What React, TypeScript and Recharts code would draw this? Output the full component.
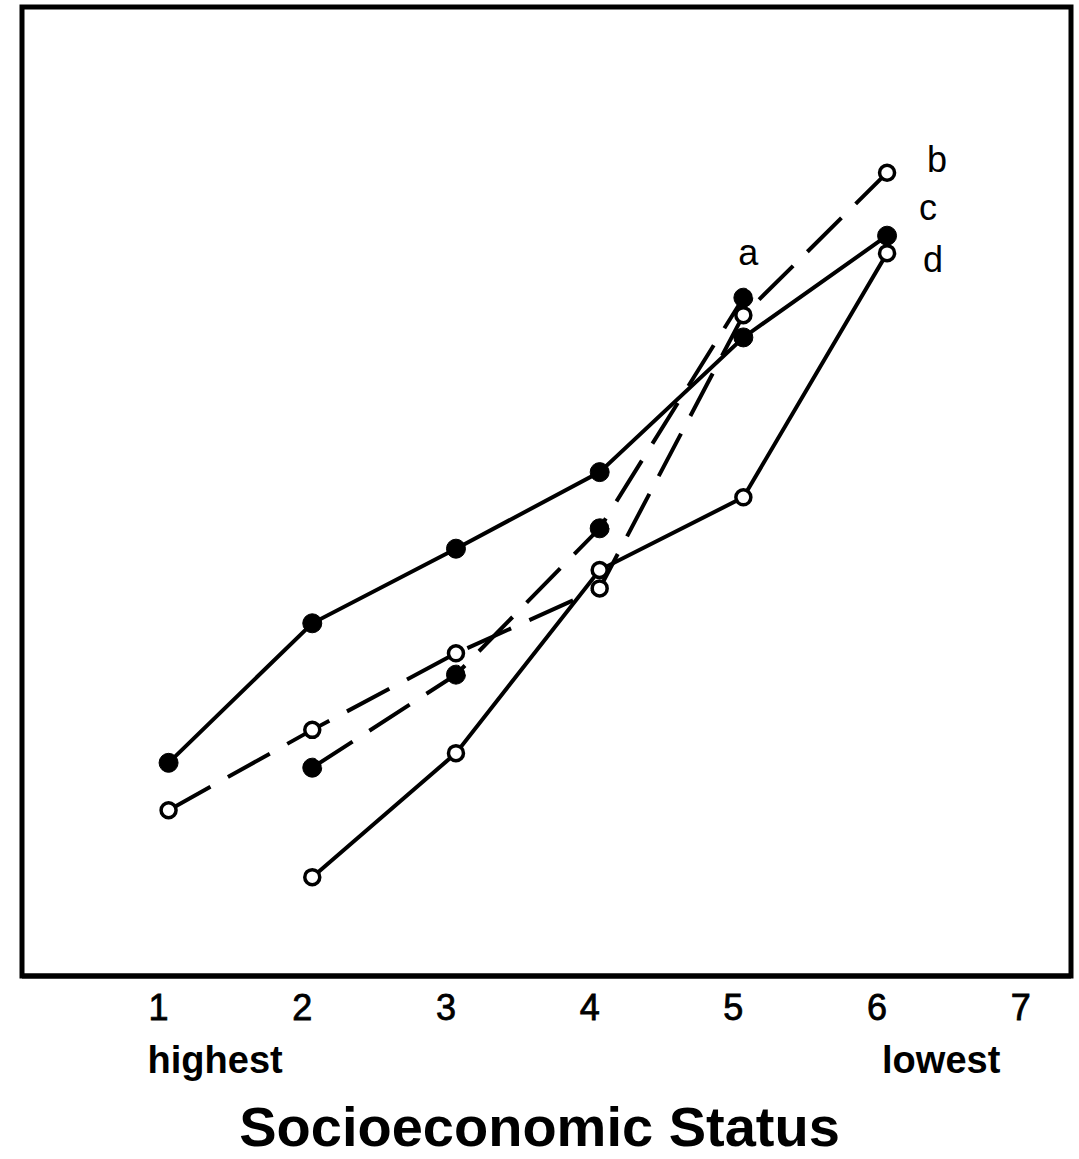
import React from 'react';
import { LineChart, Line, XAxis, YAxis, Label, LabelList, ReferenceArea } from 'recharts';

// SES category (1 = highest, 6 = lowest) and the four curves, no y scale given
const sesLevels = [1, 2, 3, 4, 5, 6];
const seriesA = [null, 21.5, 31.1, 46.2, 70.0, null];
const seriesB = [17.1, 25.4, 33.3, 40.0, 68.2, 82.9];
const seriesC = [22.0, 36.4, 44.1, 52.0, 65.9, 76.4];
const seriesD = [null, 10.2, 23.0, 41.9, 49.4, 74.6];
const xTicks = [1, 2, 3, 4, 5, 6, 7];
const tickNotes: Record<number, string> = { 1: 'highest', 6: 'lowest' };

const data = sesLevels.map((x, i) => ({
  x,
  a: seriesA[i],
  b: seriesB[i],
  c: seriesC[i],
  d: seriesD[i],
}));

const FONT = '"Liberation Sans", Arial, Helvetica, sans-serif';
const X_DOMAIN = [-0.02, 7.28];
const Y_DOMAIN = [0, 100];

const filledDot = { r: 9.5, fill: '#000', stroke: '#000', strokeWidth: 1 };
const openDot = { r: 7.5, fill: '#fff', stroke: '#000', strokeWidth: 3.5 };

const lastIndex = (arr: (number | null)[]) => {
  let k = -1;
  arr.forEach((v, i) => {
    if (v != null) k = i;
  });
  return k;
};

const endLabel = (text: string, idx: number, dx: number, dy: number) => (props: any) => {
  if (props.index !== idx) return null;
  return (
    <text
      x={props.x + dx}
      y={props.y + dy}
      textAnchor="middle"
      fontFamily={FONT}
      fontSize={36}
      fill="#000"
    >
      {text}
    </text>
  );
};

const SesTick = (props: any) => {
  const { x, y, payload } = props;
  const note = tickNotes[payload.value];
  return (
    <g>
      <text
        x={x - 10}
        y={y + 44}
        textAnchor="middle"
        fontFamily={FONT}
        fontSize={36}
        fill="#000"
        stroke="#000"
        strokeWidth={0.8}
      >
        {payload.value}
      </text>
      {note && (
        <text
          x={x + (payload.value === 1 ? -21 : -5)}
          y={y + 97}
          textAnchor="start"
          fontFamily={FONT}
          fontWeight="bold"
          fontSize={38}
          fill="#000"
        >
          {note}
        </text>
      )}
    </g>
  );
};

export default function App() {
  return (
    <div style={{ position: 'absolute', left: 0, top: 0, background: '#fff' }}>
      <LineChart width={1079} height={1159} data={data} margin={{ top: 7, right: 8, left: 22, bottom: 0 }}>
        <XAxis
          dataKey="x"
          type="number"
          domain={X_DOMAIN}
          ticks={xTicks}
          interval={0}
          height={183}
          tickLine={false}
          tickSize={0}
          tickMargin={0}
          axisLine={{ stroke: '#000', strokeWidth: 5 }}
          tick={<SesTick />}
        >
          <Label
            content={(p: any) => (
              <text
                x={p.viewBox.x + p.viewBox.width / 2 - 7}
                y={p.viewBox.y + 170}
                textAnchor="middle"
                fontFamily={FONT}
                fontWeight="bold"
                fontSize={56}
                fill="#000"
              >
                Socioeconomic Status
              </text>
            )}
          />
        </XAxis>
        <YAxis type="number" domain={Y_DOMAIN} hide />

        {/* frame around the plot */}
        <ReferenceArea
          x1={X_DOMAIN[0]}
          x2={X_DOMAIN[1]}
          y1={Y_DOMAIN[0]}
          y2={Y_DOMAIN[1]}
          fill="none"
          fillOpacity={0}
          stroke="#000"
          strokeWidth={5}
        />

        <Line
          dataKey="c"
          stroke="#000"
          strokeWidth={4}
          dot={filledDot}
          activeDot={false}
          isAnimationActive={false}
        >
          <LabelList dataKey="c" content={endLabel('c', lastIndex(seriesC), 41, -16)} />
        </Line>
        <Line
          dataKey="d"
          stroke="#000"
          strokeWidth={4}
          dot={openDot}
          activeDot={false}
          isAnimationActive={false}
        >
          <LabelList dataKey="d" content={endLabel('d', lastIndex(seriesD), 46, 19)} />
        </Line>
        <Line
          dataKey="a"
          stroke="#000"
          strokeWidth={4}
          strokeDasharray="48 20"
          dot={filledDot}
          activeDot={false}
          isAnimationActive={false}
        >
          <LabelList dataKey="a" content={endLabel('a', lastIndex(seriesA), 5, -33)} />
        </Line>
        <Line
          dataKey="b"
          stroke="#000"
          strokeWidth={4}
          strokeDasharray="48 20"
          dot={openDot}
          activeDot={false}
          isAnimationActive={false}
        >
          <LabelList dataKey="b" content={endLabel('b', lastIndex(seriesB), 50, -1)} />
        </Line>
      </LineChart>
    </div>
  );
}
